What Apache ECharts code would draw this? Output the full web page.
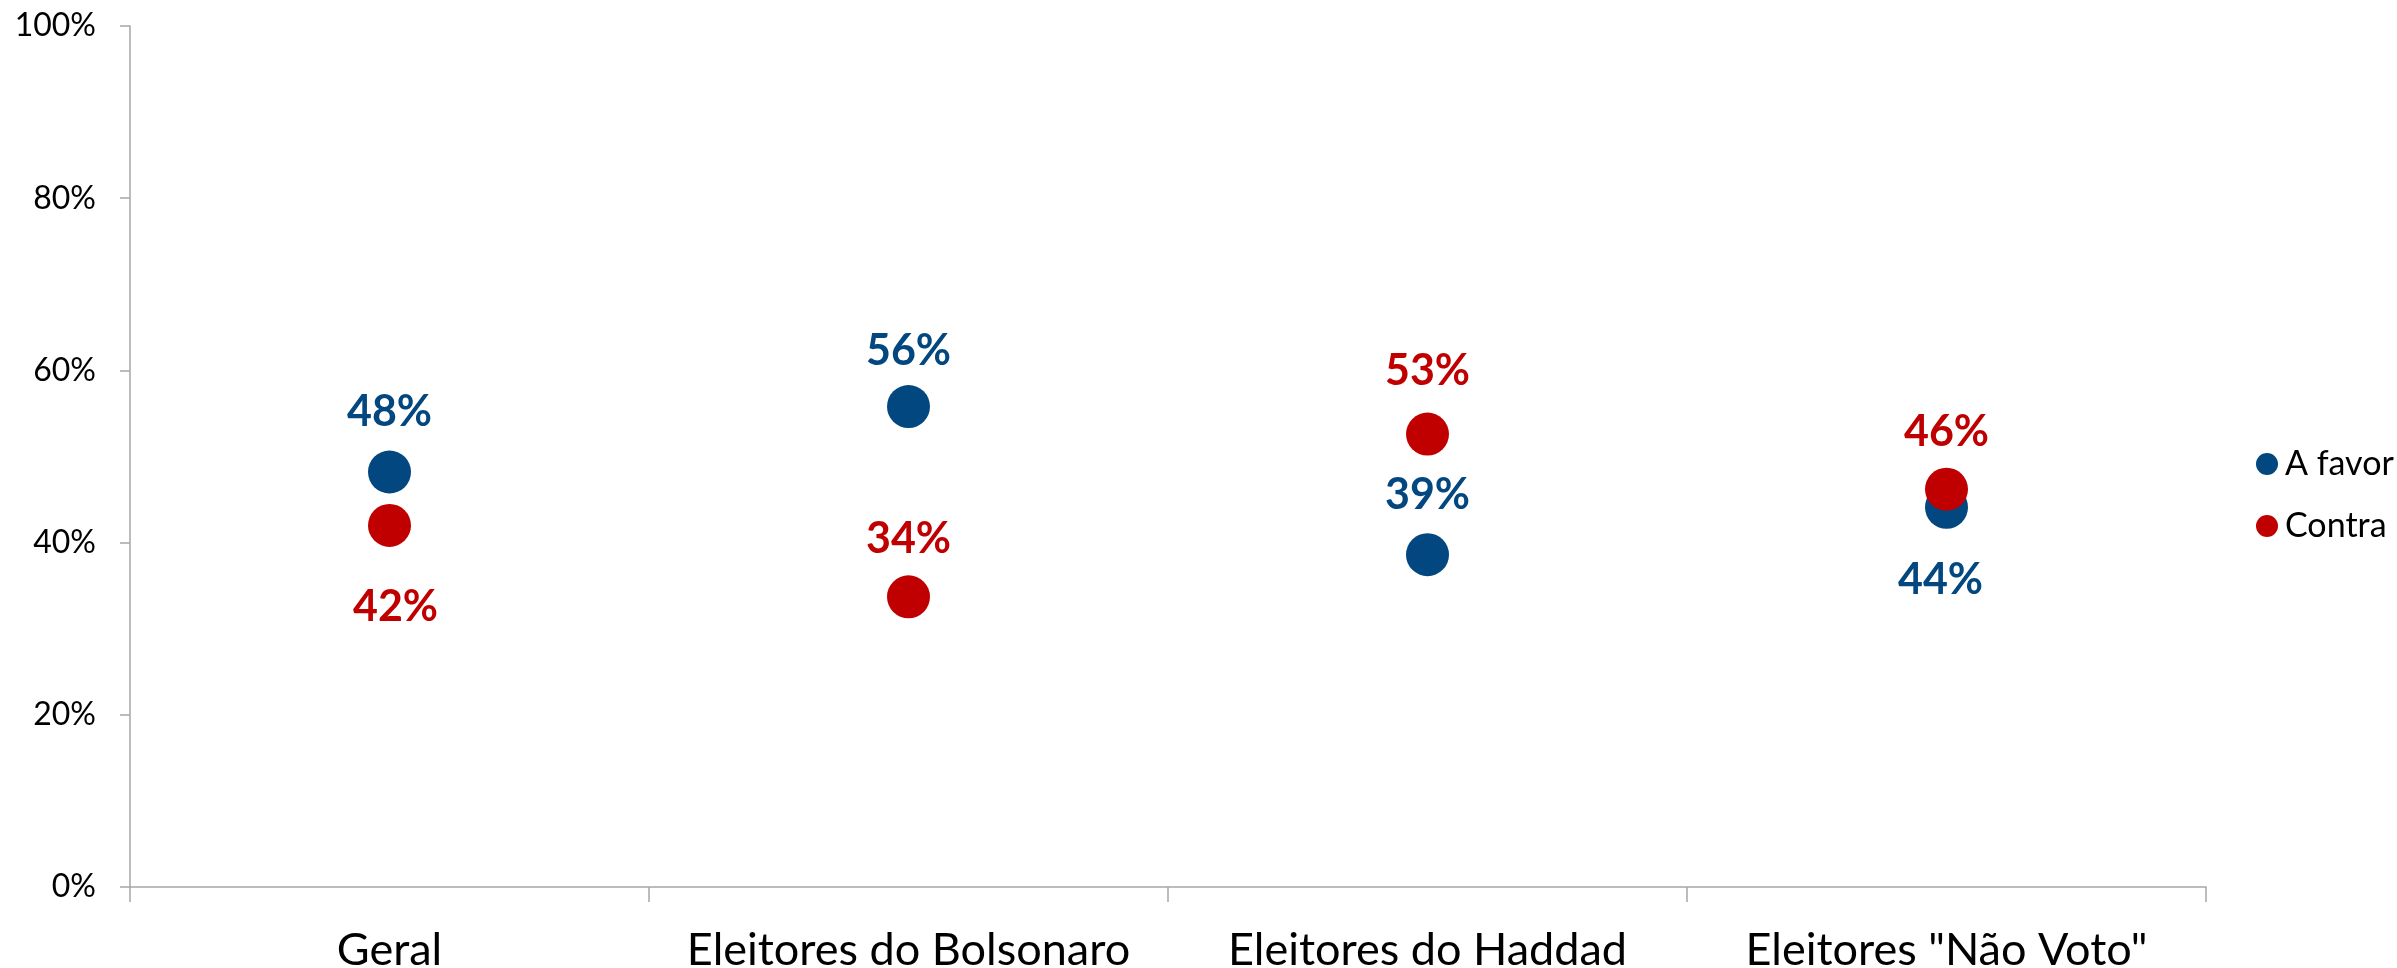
<!DOCTYPE html>
<html>
<head>
<meta charset="utf-8">
<script src="https://cdn.jsdelivr.net/npm/echarts@6/dist/echarts.min.js"></script>
<style>
html,body{margin:0;padding:0;background:#fff;}
#chart{width:2397px;height:968px;}
</style>
</head>
<body>
<div id="chart"></div>
<script>
// ---- data ----
const categories = ['Geral', 'Eleitores do Bolsonaro', 'Eleitores do Haddad', 'Eleitores "Não Voto"'];
const seriesNames = ['A favor', 'Contra'];
const aFavor = [48.2, 55.8, 38.6, 44.1];
const contra = [42.0, 33.7, 52.6, 46.2];
const yTicks = [0, 20, 40, 60, 80, 100];

// ---- layout (label placement, px) ----
const favorLabelOffsets = [[0, -60], [0, -55], [0, -60], [-6, 73]];
const contraLabelOffsets = [[6, 82], [0, -58], [0, -63], [0, -57]];

const BLUE = '#02477F';
const RED = '#C00000';
const FONT = 'Lato';
const AXIS_GRAY = '#A6A6A6';

function buildData(values, offsets) {
  return values.map((v, i) => ({ value: v, label: { offset: offsets[i] } }));
}

const chart = echarts.init(document.getElementById('chart'), null, { renderer: 'canvas' });
chart.setOption({
  animation: false,
  backgroundColor: '#fff',
  grid: { left: 130, top: 26, right: 191, bottom: 81, containLabel: false, outerBoundsMode: 'none' },
  legend: {
    orient: 'vertical',
    left: 2251,
    top: 440,
    icon: 'circle',
    itemWidth: 22,
    itemHeight: 22,
    itemGap: 24,
    data: seriesNames,
    textStyle: { fontFamily: FONT, fontSize: 34, color: '#000', lineHeight: 38, padding: [0, 0, 0, 2] }
  },
  xAxis: {
    type: 'category',
    data: categories,
    boundaryGap: true,
    axisLine: { show: true, lineStyle: { color: AXIS_GRAY, width: 1.5 } },
    axisTick: { show: true, length: 15, inside: false, alignWithLabel: false, interval: 0, lineStyle: { color: AXIS_GRAY, width: 1.5 } },
    axisLabel: { fontFamily: FONT, fontSize: 45, color: '#000', margin: 41, interval: 0 },
    splitLine: { show: false }
  },
  yAxis: {
    type: 'value',
    min: yTicks[0],
    max: yTicks[yTicks.length - 1],
    interval: yTicks[1] - yTicks[0],
    axisLine: { show: true, lineStyle: { color: AXIS_GRAY, width: 1.5 } },
    axisTick: { show: true, length: 10, inside: false, lineStyle: { color: AXIS_GRAY, width: 1.5 } },
    axisLabel: { fontFamily: FONT, fontSize: 32, color: '#000', margin: 34, formatter: '{value}%' },
    splitLine: { show: false }
  },
  series: [
    {
      name: seriesNames[0],
      type: 'scatter',
      symbol: 'circle',
      symbolSize: 43,
      itemStyle: { color: BLUE, opacity: 1 },
      label: {
        show: true, position: 'inside', color: BLUE, fontFamily: FONT, fontWeight: 'bold', fontSize: 43,
        formatter: p => Math.round(p.value) + '%'
      },
      data: buildData(aFavor, favorLabelOffsets)
    },
    {
      name: seriesNames[1],
      type: 'scatter',
      symbol: 'circle',
      symbolSize: 43,
      itemStyle: { color: RED, opacity: 1 },
      label: {
        show: true, position: 'inside', color: RED, fontFamily: FONT, fontWeight: 'bold', fontSize: 43,
        formatter: p => Math.round(p.value) + '%'
      },
      data: buildData(contra, contraLabelOffsets)
    }
  ]
});
</script>
</body>
</html>
